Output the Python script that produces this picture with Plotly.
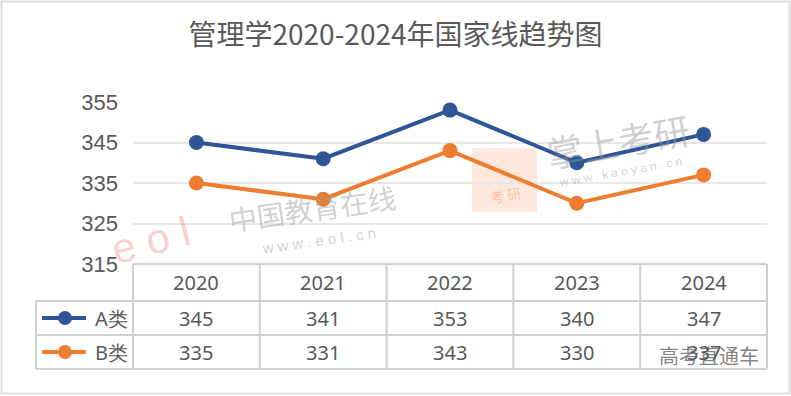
import plotly.graph_objects as go

years = ["2020", "2021", "2022", "2023", "2024"]
series_a = [345, 341, 353, 340, 347]
series_b = [335, 331, 343, 330, 337]
series_names = ["A类", "B类"]
y_ticks = [315, 325, 335, 345, 355]
title_text = "管理学2020-2024年国家线趋势图"

W, H = 791, 396
BLUE = "#2F5597"
ORANGE = "#ED7D31"
TXT = "#595959"

def px(x):
    return x / W

def py(y):
    return 1 - y / H

# layout geometry (pixels)
X0, X1 = 133, 767
Y_TOP, Y_BOT = 102, 264
ROW = [264, 301, 335, 369]
LEG_X0 = 36

fig = go.Figure()
xs = list(range(len(years)))
for name, vals, col in [(series_names[0], series_a, BLUE), (series_names[1], series_b, ORANGE)]:
    fig.add_trace(go.Scatter(
        x=xs, y=vals, name=name, mode="lines+markers",
        line=dict(color=col, width=4),
        marker=dict(color=col, size=15),
        cliponaxis=False, showlegend=False,
    ))

shapes = []
# outer frame
shapes.append(dict(type="rect", xref="paper", yref="paper", x0=px(1.5), x1=px(789.5), y0=py(393.5), y1=py(1.5),
                   line=dict(color="#DCDCDC", width=2), layer="below"))
# table lines
line_style = dict(color="#D0D0D0", width=2)
shapes.append(dict(type="line", xref="paper", yref="paper", x0=px(X0), x1=px(X1), y0=py(ROW[0]), y1=py(ROW[0]), line=line_style))
for r in ROW[1:]:
    shapes.append(dict(type="line", xref="paper", yref="paper", x0=px(LEG_X0), x1=px(X1), y0=py(r), y1=py(r), line=line_style))
col_w = (X1 - X0) / len(years)
for i in range(len(years) + 1):
    xx = X0 + i * col_w
    shapes.append(dict(type="line", xref="paper", yref="paper", x0=px(xx), x1=px(xx), y0=py(ROW[0]), y1=py(ROW[3]), line=line_style))
shapes.append(dict(type="line", xref="paper", yref="paper", x0=px(LEG_X0), x1=px(LEG_X0), y0=py(ROW[1]), y1=py(ROW[3]), line=line_style))

annotations = []

def note(text, x, y, font, angle=0, xanchor="center"):
    annotations.append(dict(text=text, x=px(x), y=py(y), xref="paper", yref="paper", showarrow=False,
                            xanchor=xanchor, yanchor="middle", font=font, textangle=angle))

# watermarks
note("中国教育在线", 312, 208, dict(size=28, color="rgba(150,150,150,0.45)", family="Noto Sans CJK SC"), -8)
note("w w w . e o l . c n", 318, 240, dict(size=15, color="rgba(150,150,150,0.45)", family="Liberation Sans"), -8)
note("e o l", 150, 240, dict(size=42, color="rgba(230,90,90,0.3)", family="Liberation Sans"), -15)
note("掌上考研", 618, 140, dict(size=36, color="rgba(150,150,150,0.45)", family="Noto Sans CJK SC"), -10)
note("w w w . k a o y a n . c n", 620, 172, dict(size=12, color="rgba(150,150,150,0.45)", family="Liberation Sans"), -10)
note("考 研", 505, 195, dict(size=14, color="rgba(240,130,60,0.35)", family="Noto Sans CJK SC"), -10)
shapes.append(dict(type="rect", xref="paper", yref="paper", x0=px(472), x1=px(537), y0=py(212), y1=py(148),
                   line=dict(width=0), fillcolor="rgba(245,150,90,0.22)", layer="below"))
note("高考直通车", 709, 355, dict(size=20, color="rgba(110,110,110,0.85)", family="Noto Sans CJK SC"))

# table header and values
tfont = dict(size=20, color=TXT, family="Noto Sans, Liberation Sans")
for i, yr in enumerate(years):
    cx = X0 + (i + 0.5) * col_w
    note(yr, cx, (ROW[0] + ROW[1]) / 2, tfont)
    note(str(series_a[i]), cx, (ROW[1] + ROW[2]) / 2, tfont)
    note(str(series_b[i]), cx, (ROW[2] + ROW[3]) / 2, tfont)
# legend cells
for k, (name, col) in enumerate([(series_names[0], BLUE), (series_names[1], ORANGE)]):
    cy = (ROW[k + 1] + ROW[k + 2]) / 2
    shapes.append(dict(type="line", xref="paper", yref="paper", x0=px(42), x1=px(86), y0=py(cy), y1=py(cy),
                       line=dict(color=col, width=4)))
    shapes.append(dict(type="circle", xref="paper", yref="paper", x0=px(58), x1=px(72), y0=py(cy + 7), y1=py(cy - 7),
                       line=dict(width=0), fillcolor=col))
    note(name, 130, cy, tfont, xanchor="right")

fig.update_layout(
    width=W, height=H,
    margin=dict(l=0, r=0, t=0, b=0, autoexpand=False),
    paper_bgcolor="white", plot_bgcolor="white",
    title=dict(text=title_text, x=0.5, xanchor="center", y=py(35), yanchor="middle", yref="paper",
               automargin=False,
               font=dict(size=28, color=TXT, family="Noto Sans CJK SC")),
    xaxis=dict(domain=[px(X0), px(X1)], range=[-0.5, len(years) - 0.5], showgrid=False, zeroline=False,
               showticklabels=False, fixedrange=True, automargin=False),
    yaxis=dict(domain=[py(Y_BOT), py(Y_TOP)], range=[315, 355], tickvals=y_ticks, showgrid=True,
               gridcolor="#E8E8E8", gridwidth=2, zeroline=False, ticks="", ticklabelstandoff=14,
               automargin=False,
               tickfont=dict(size=22, color=TXT, family="Liberation Sans"), fixedrange=True),
    shapes=shapes, annotations=annotations,
)

fig.write_html("out.html", config={"displayModeBar": False})
with open("out.html", encoding="utf-8") as f:
    html = f.read()
html = html.replace("<head>", "<head><style>html,body{margin:0;padding:0;overflow:hidden;}</style>", 1)
with open("out.html", "w", encoding="utf-8") as f:
    f.write(html)
